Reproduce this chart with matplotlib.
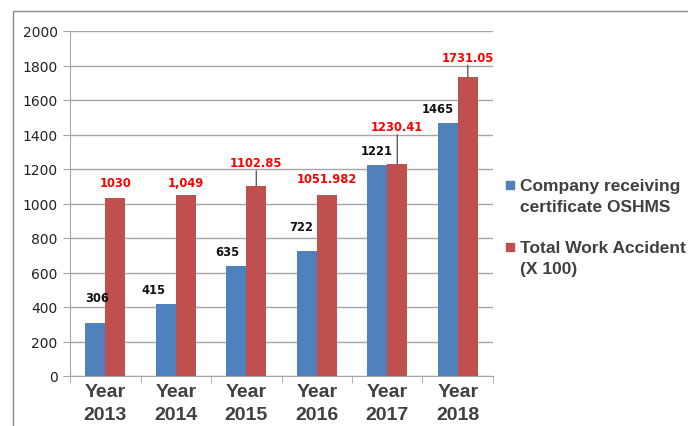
import matplotlib.pyplot as plt
from matplotlib.patches import Rectangle
import numpy as np

years = ['Year\n2013', 'Year\n2014', 'Year\n2015', 'Year\n2016', 'Year\n2017', 'Year\n2018']
company = [306, 415, 635, 722, 1221, 1465]
accident = [1030, 1049, 1102.85, 1051.982, 1230.41, 1731.05]
company_labels = ['306', '415', '635', '722', '1221', '1465']
accident_labels = ['1030', '1,049', '1102.85', '1051.982', '1230.41', '1731.05']

# label offsets in pixels (dx, dy) from bar top
company_off = [(2, 26), (-12, 15), (-9, 15), (-5, 25), (-1, 15), (-10, 15)]
accident_off = [(0, 16), (0, 13), (0, 23), (0, 16), (0, 37), (0, 20)]
leader = [False, False, True, False, True, True]

blue = '#4F81BD'
red = '#C0504D'
grey_text = '#404040'

fig = plt.figure(figsize=(6.88, 4.27), dpi=100)
ax = fig.add_axes([70 / 688, 1 - 377 / 427, 423 / 688, 345 / 427])

x = np.arange(len(years))
w = 0.285
ax.bar(x - w / 2, company, width=w, color=blue, zorder=3)
ax.bar(x + w / 2, accident, width=w, color=red, zorder=3)

ax.set_xlim(-0.5, 5.5)
ax.set_ylim(0, 2000)
ax.set_yticks(np.arange(0, 2001, 200))
ax.yaxis.grid(True, color='#A6A6A6', linewidth=1, zorder=0)
ax.tick_params(axis='y', labelsize=10, length=5, color='#A6A6A6', pad=4, labelcolor='#222222')

ax.set_xticks(x)
ax.set_xticklabels(years, fontsize=14, fontweight='bold', color=grey_text,
                   family='Liberation Sans', linespacing=1.45)
ax.tick_params(axis='x', length=0, pad=5)
ax.set_xticks(np.arange(-0.5, 6, 1), minor=True)
ax.tick_params(axis='x', which='minor', length=5, color='#A6A6A6')

for s in ['top', 'right']:
    ax.spines[s].set_visible(False)
for s in ['left', 'bottom']:
    ax.spines[s].set_color('#A6A6A6')

for i in range(len(years)):
    dx, dy = company_off[i]
    ax.annotate(company_labels[i], (x[i] - w / 2, company[i]), xytext=(dx, dy),
                textcoords='offset pixels', ha='center', va='center',
                fontsize=8.3, fontweight='bold', color='#111111', zorder=5)
    dx, dy = accident_off[i]
    ax.annotate(accident_labels[i], (x[i] + w / 2, accident[i]), xytext=(dx, dy),
                textcoords='offset pixels', ha='center', va='center',
                fontsize=8.3, fontweight='bold', color='#FF0000', zorder=5)
    if leader[i]:
        ax.annotate('', (x[i] + w / 2, accident[i]), xytext=(0, dy - 8),
                    textcoords='offset pixels',
                    arrowprops=dict(arrowstyle='-', color='#606060', lw=1,
                                    shrinkA=0, shrinkB=0))

# legend drawn by hand
legend_items = [(blue, 'Company receiving\ncertificate OSHMS', 186),
                (red, 'Total Work Accident\n(X 100)', 248)]
for col, txt, ypx in legend_items:
    fig.patches.append(Rectangle((506 / 688, 1 - (ypx + 4) / 427), 8 / 688, 8 / 427,
                                 transform=fig.transFigure, color=col))
    fig.text(520 / 688, 1 - (ypx - 7) / 427, txt, ha='left', va='top',
             fontsize=12.5, fontweight='bold', color=grey_text,
             family='Liberation Sans', linespacing=1.5)

# outer border
fig.patches.append(Rectangle((13 / 688, -0.05), 700 / 688, 1 - 12 / 427 + 0.05,
                             transform=fig.transFigure, fill=False,
                             edgecolor='#8C8C8C', linewidth=1))

fig.savefig('out.png', dpi=100)
